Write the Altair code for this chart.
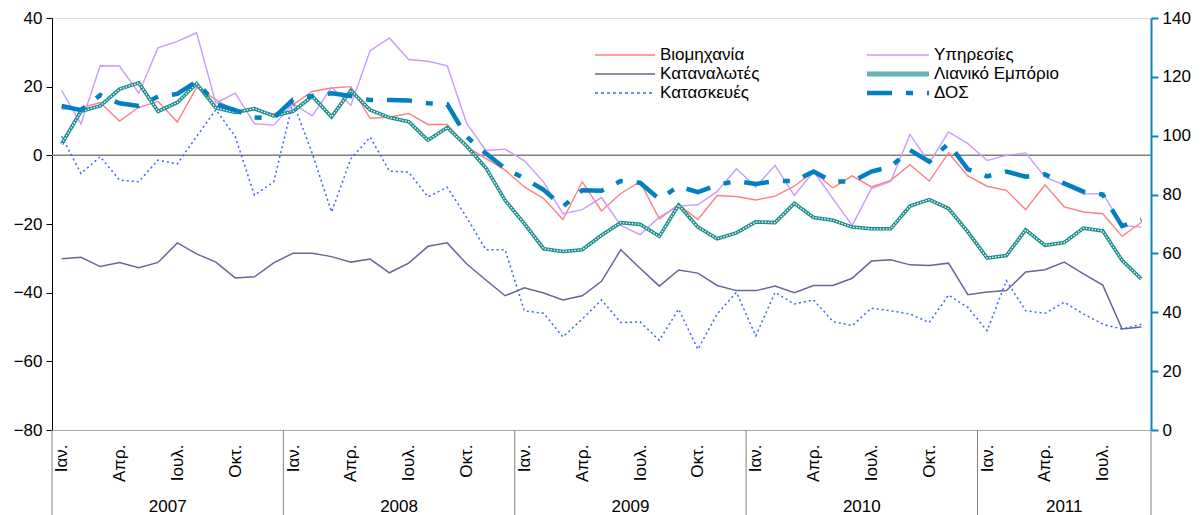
import json
import altair as alt
import pandas as pd

# ---------------- data ----------------
years = ["2007", "2008", "2009", "2010", "2011"]
months_per_year = [12, 12, 12, 12, 9]
month_labels = ["Ιαν.", "Απρ.", "Ιουλ.", "Οκτ."]
left_ticks = [-80, -60, -40, -20, 0, 20, 40]
right_ticks = [0, 20, 40, 60, 80, 100, 120, 140]

industry = [13.5, 13.8, 15.4, 10.0, 14.0, 15.7, 9.7, 19.8, 16.2, 12.8, 13.2, 12.0,
            14.8, 18.6, 19.6, 20.0, 10.8, 11.1, 12.2, 9.0, 9.0, 2.5, -0.9, -4.3,
            -9.2, -12.6, -18.7, -7.7, -16.2, -11.1, -7.7, -18.5, -14.3, -18.7, -11.7, -12.0,
            -13.0, -11.9, -9.0, -4.7, -9.5, -6.0, -9.2, -7.3, -2.7, -7.5, 0.7, -6.0,
            -9.0, -10.2, -15.8, -8.6, -15.0, -16.5, -17.0, -23.6, -19.5]

services = [18.9, 9.1, 26.1, 26.0, 18.1, 31.3, 33.2, 35.7, 15.2, 18.1, 9.2, 8.8,
            15.0, 11.5, 19.8, 14.6, 30.5, 34.2, 27.9, 27.4, 26.1, 9.4, 1.4, 1.8,
            -1.6, -7.8, -17.0, -15.8, -12.3, -20.4, -23.1, -18.0, -14.8, -14.4, -10.5, -3.9,
            -9.2, -2.9, -11.7, -4.7, -12.6, -20.4, -9.7, -7.6, 6.1, -2.2, 6.8, 3.4,
            -1.5, 0.0, 0.7, -6.3, -8.7, -11.3, -11.1, -20.4, -20.9]

consumers = [-30.1, -29.7, -32.4, -31.2, -32.7, -31.2, -25.5, -28.7, -31.1, -35.7, -35.4, -31.3,
             -28.5, -28.5, -29.5, -31.1, -30.2, -34.2, -31.4, -26.5, -25.5, -31.6, -36.3, -40.9,
             -38.6, -40.1, -42.1, -40.9, -36.7, -27.5, -32.9, -38.1, -33.4, -34.3, -37.9, -39.4,
             -39.4, -38.1, -40.0, -37.9, -37.9, -35.8, -30.8, -30.4, -31.9, -32.1, -31.4, -40.6,
             -39.8, -39.4, -34.0, -33.3, -31.1, -34.5, -37.8, -50.6, -50.0]

retail = [3.3, 12.8, 14.4, 19.3, 21.1, 12.8, 15.4, 20.9, 13.8, 12.5, 13.6, 11.5,
          12.8, 17.2, 11.2, 18.9, 13.2, 11.0, 9.8, 4.4, 8.1, 2.7, -3.6, -13.1,
          -19.9, -27.2, -28.0, -27.5, -23.3, -19.6, -20.1, -23.6, -14.5, -20.9, -24.3, -22.6,
          -19.4, -19.6, -14.0, -18.1, -18.9, -20.9, -21.4, -21.4, -14.8, -12.9, -15.5, -22.3,
          -29.9, -29.2, -21.7, -26.2, -25.4, -21.2, -22.0, -30.6, -36.0]

construction = [5.5, -5.3, -0.4, -7.2, -7.7, -1.4, -2.5, 5.5, 13.3, 5.5, -11.6, -7.7,
                15.5, 0.5, -16.5, -1.0, 5.3, -4.6, -4.9, -12.1, -9.3, -18.0, -27.5, -27.5,
                -45.3, -46.0, -52.9, -47.7, -42.1, -48.7, -48.5, -53.9, -44.8, -56.5, -46.2, -39.9,
                -52.6, -39.9, -43.3, -42.1, -48.4, -49.6, -44.5, -45.3, -46.2, -48.7, -40.7, -44.3,
                -51.1, -36.5, -45.3, -46.0, -42.8, -46.2, -49.2, -50.6, -49.2]

esi = [110.1, 108.7, 113.8, 111.0, 110.1, 113.3, 114.2, 118.4, 110.8, 108.7, 106.2, 106.0,
       112.3, 113.5, 114.4, 113.5, 112.1, 112.1, 112.0, 111.0, 110.7, 99.7, 94.0, 88.9,
       85.5, 81.6, 75.9, 81.5, 81.3, 84.6, 84.0, 78.5, 82.8, 80.8, 83.3, 84.6,
       83.6, 84.6, 84.6, 87.8, 84.4, 84.4, 87.8, 89.5, 95.1, 91.2, 97.4, 88.6,
       86.2, 87.8, 86.1, 86.9, 83.8, 81.0, 80.0, 69.3, 71.5]

names = {
    "ind": "Βιομηχανία",
    "serv": "Υπηρεσίες",
    "cons": "Καταναλωτές",
    "ret": "Λιανικό Εμπόριο",
    "constr": "Κατασκευές",
    "esi": "ΔΟΣ",
}

# ---------------- tables ----------------
n = sum(months_per_year)
df = pd.DataFrame({
    "idx": list(range(n)),
    "ind": industry,
    "serv": services,
    "cons": consumers,
    "ret": retail,
    "constr": construction,
    "esi": esi,
})

bounds = [-0.5]
for m in months_per_year:
    bounds.append(bounds[-1] + m)
year_df = pd.DataFrame({
    "year": years,
    "idx": [(bounds[i] + bounds[i + 1]) / 2 for i in range(len(years))],
})
sep_df = pd.DataFrame({"idx": bounds})
zero_df = pd.DataFrame({"v": [0]})

# ---------------- style ----------------
FONT = "Liberation Sans"
FS = 17
W, H = 1099, 412
BLUE_AX = "#0a84c6"

style = {
    "ind": dict(color="#ff8080", strokeWidth=1.4),
    "serv": dict(color="#cc99ff", strokeWidth=1.4),
    "cons": dict(color="#666699", strokeWidth=1.5),
    "ret": dict(color="#1b8c8c", strokeWidth=3.6),
    "constr": dict(color="#3366ff", strokeWidth=1.5, strokeDash=[2, 3]),
    "esi": dict(color="#0080c0", strokeWidth=4.5, strokeDash=[25, 14, 7, 14]),
}
legend_style = dict(style)
legend_style["ret"] = dict(color="#66b3b3", strokeWidth=5)
legend_style["constr"] = dict(color="#3366ff", strokeWidth=1.5, strokeDash=[3, 3])

x_scale = alt.Scale(domain=[-0.5, n - 0.5], nice=False, zero=False)
label_expr = (json.dumps(month_labels, ensure_ascii=False)
              + "[floor((datum.value % 12) / 3)]")
x_axis = alt.Axis(values=list(range(0, n, 3)), labelExpr=label_expr,
                  labelAngle=-90, labelAlign="right", labelBaseline="middle",
                  labelPadding=14, ticks=False, grid=False,
                  domainColor="#a6a6a6", labelFont=FONT, labelFontSize=FS,
                  labelColor="black")
X = alt.X("idx:Q", scale=x_scale, title=None, axis=x_axis)

y_scale = alt.Scale(domain=[left_ticks[0], left_ticks[-1]], nice=False, zero=False)
y_axis = alt.Axis(values=left_ticks, grid=False, domainColor="black",
                  tickColor="black", tickSize=6, labelPadding=4,
                  labelFont=FONT, labelFontSize=FS, labelColor="black")


def Yl(field):
    return alt.Y(f"{field}:Q", scale=y_scale, title=None, axis=y_axis)


base = alt.Chart(df)

layers = []
# zero line
layers.append(alt.Chart(zero_df).mark_rule(color="#7f7f7f", strokeWidth=1.5)
              .encode(y=Yl("v")))
# left-axis series
for key in ["ind", "serv", "cons", "ret"]:
    layers.append(base.mark_line(**style[key]).encode(x=X, y=Yl(key)))
layers.append(base.mark_line(color="white", strokeWidth=1.3, strokeDash=[1.5, 1.5])
              .encode(x=X, y=Yl("ret")))
layers.append(base.mark_line(**style["constr"]).encode(x=X, y=Yl("constr")))

# year separators and labels under the axis
layers.append(alt.Chart(sep_df).mark_rule(color="#808080", strokeWidth=1)
              .encode(x=X, y=alt.value(H), y2=alt.value(H + 90)))
layers.append(alt.Chart(year_df).mark_text(font=FONT, fontSize=FS, color="black",
                                           baseline="alphabetic")
              .encode(x=X, y=alt.value(H + 82), text="year:N"))

# legend (two columns)
legend_cols = [["ind", "cons", "constr"], ["serv", "ret", "esi"]]
col_x = [543, 815]
sym_len = [60, 62]
row_y = [37, 56, 75]
for c, keys in enumerate(legend_cols):
    for r, key in enumerate(keys):
        d = alt.Data(values=[{"label": names[key]}])
        st = dict(legend_style[key])
        layers.append(alt.Chart(d).mark_rule(strokeCap="butt", **st)
                      .encode(x=alt.value(col_x[c]), x2=alt.value(col_x[c] + sym_len[c]),
                              y=alt.value(row_y[r])))
        layers.append(alt.Chart(d).mark_text(font=FONT, fontSize=FS, color="black",
                                             align="left", baseline="middle")
                      .encode(x=alt.value(col_x[c] + sym_len[c] + 5),
                              y=alt.value(row_y[r]), text="label:N"))

left = alt.layer(*layers)

right = base.mark_line(strokeCap="butt", **style["esi"]).encode(
    x=X,
    y=alt.Y("esi:Q", title=None,
            scale=alt.Scale(domain=[right_ticks[0], right_ticks[-1]], nice=False, zero=False),
            axis=alt.Axis(orient="right", values=right_ticks, grid=False,
                          domainColor=BLUE_AX, domainWidth=2, tickColor=BLUE_AX,
                          tickWidth=2, tickSize=7, labelPadding=4, labelFont=FONT,
                          labelFontSize=FS, labelColor="black")),
)

chart = (
    alt.layer(left, right)
    .resolve_scale(y="independent")
    .properties(width=W, height=H,
                padding={"left": 44, "top": 10, "right": 42, "bottom": 85},
                autosize=alt.AutoSizeParams(type="none"))
    .configure_view(stroke="#a6a6a6", strokeWidth=1)
    .configure(background="white")
)

chart.save("out.html", embed_options={"renderer": "svg", "actions": False})
